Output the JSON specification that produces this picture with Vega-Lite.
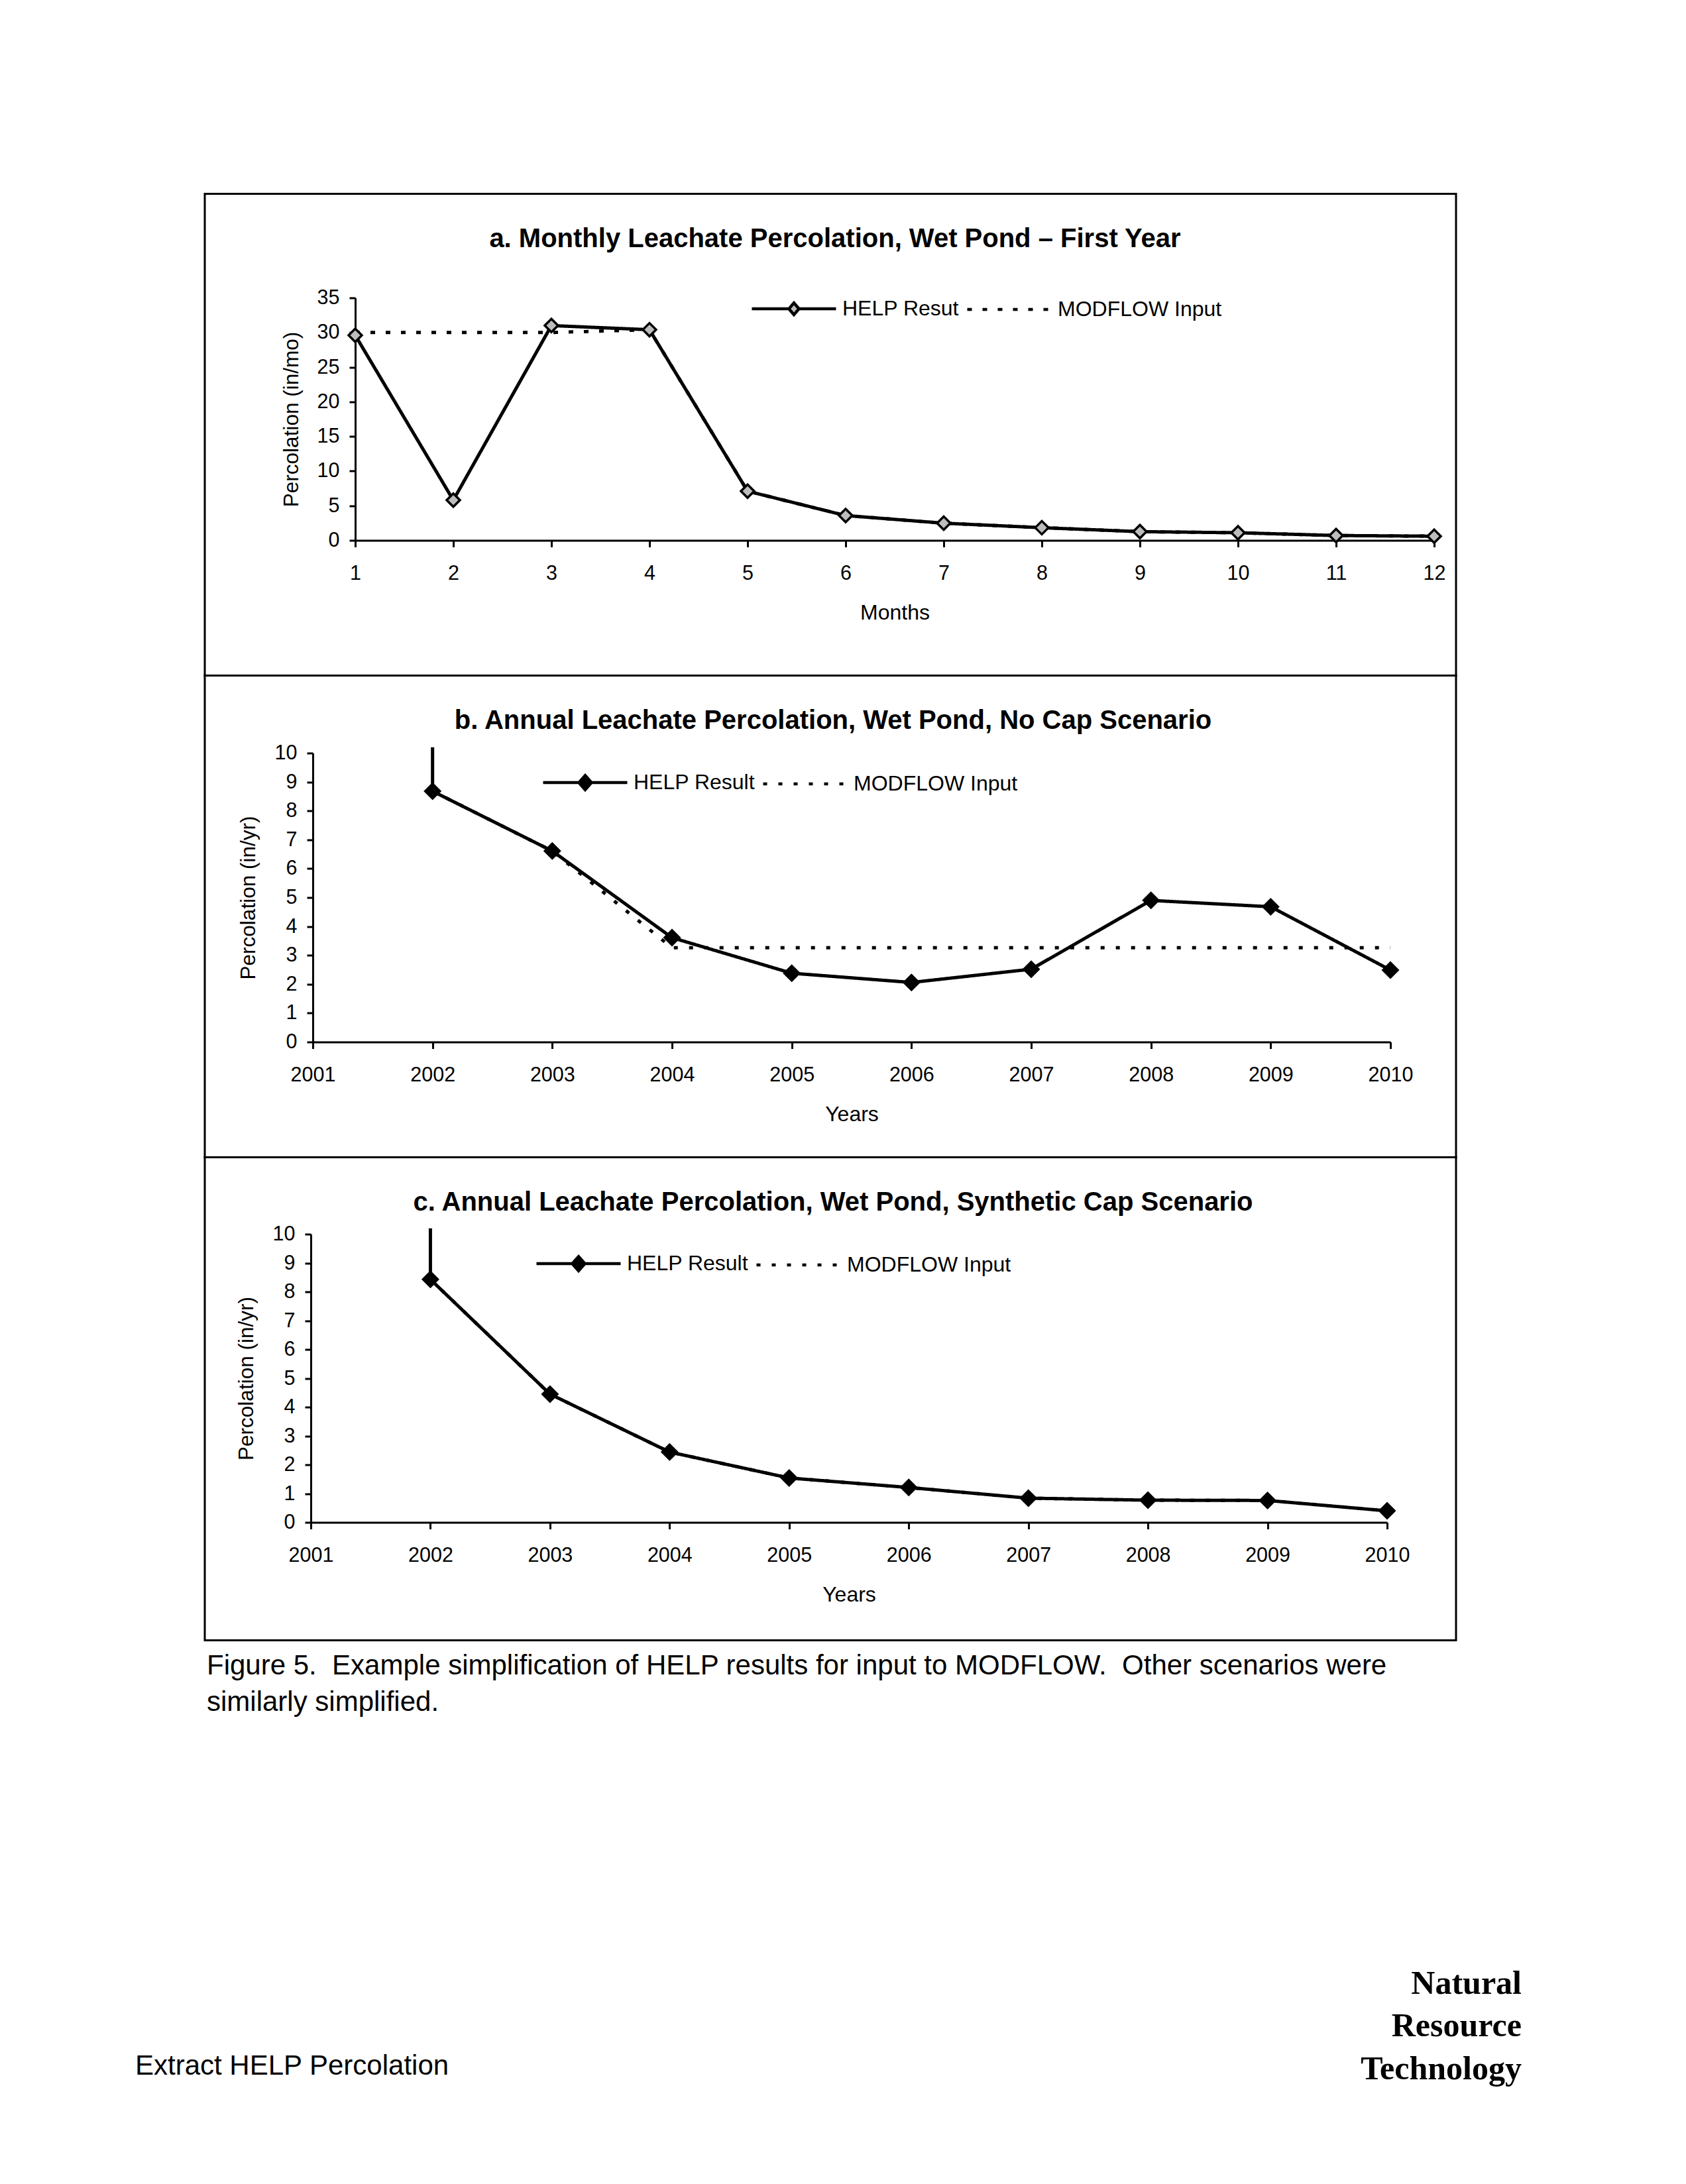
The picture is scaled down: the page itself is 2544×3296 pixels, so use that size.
{
  "$schema": "https://vega.github.io/schema/vega-lite/v6.json",
  "background": "white",
  "padding": {"left": 204, "top": 290.5, "right": 20, "bottom": 20},
  "spacing": 0,
  "bounds": "flush",
  "resolve": {"scale": {"strokeDash": "independent"}, "legend": {"strokeDash": "independent"}},
  "title": {"text": "Extract HELP Percolation", "orient": "bottom", "anchor": "start", "frame": "group", "dx": -105, "offset": -77.4, "fontSize": 42, "fontWeight": "normal", "font": "Liberation Sans", "color": "black"},
  "config": {
    "font": "Liberation Sans",
    "view": {"stroke": null},
    "axis": {"domainColor": "black", "domainWidth": 3, "tickColor": "black", "tickWidth": 3, "labelColor": "black", "labelFont": "Liberation Sans", "labelFontSize": 30.5, "titleFont": "Liberation Sans", "titleFontWeight": "normal", "titleColor": "black", "grid": false, "labelFlush": false, "labelOverlap": false},
    "axisX": {"tickSize": 10, "labelPadding": 25, "titlePadding": 28, "titleFontSize": 32},
    "axisY": {"tickSize": 9, "labelPadding": 15, "titlePadding": 22, "titleFontSize": 31.5},
    "title": {"font": "Liberation Sans", "fontSize": 40, "fontWeight": "bold", "color": "black", "anchor": "middle", "frame": "group", "offset": -88},
    "legend": {"symbolSize": 16129, "symbolStrokeWidth": 5, "symbolStrokeColor": "black", "labelFont": "Liberation Sans", "labelFontSize": 32, "labelColor": "black", "labelOffset": 7, "columnPadding": 2, "labelLimit": 1000, "padding": 0}
  },
  "vconcat": [
    {
      "width": 1888, "height": 727,
      "view": {"stroke": "black", "strokeWidth": 3},
      "title": {"text": "a. Monthly Leachate Percolation, Wet Pond – First Year", "dx": 7},
      "data": {"values": [
        {"month": 1, "value": 29.6, "series": "HELP Resut", "seq": 1},
        {"month": 2, "value": 5.8, "series": "HELP Resut", "seq": 2},
        {"month": 3, "value": 31.0, "series": "HELP Resut", "seq": 3},
        {"month": 4, "value": 30.4, "series": "HELP Resut", "seq": 4},
        {"month": 5, "value": 7.1, "series": "HELP Resut", "seq": 5},
        {"month": 6, "value": 3.58, "series": "HELP Resut", "seq": 6},
        {"month": 7, "value": 2.48, "series": "HELP Resut", "seq": 7},
        {"month": 8, "value": 1.83, "series": "HELP Resut", "seq": 8},
        {"month": 9, "value": 1.26, "series": "HELP Resut", "seq": 9},
        {"month": 10, "value": 1.1, "series": "HELP Resut", "seq": 10},
        {"month": 11, "value": 0.7, "series": "HELP Resut", "seq": 11},
        {"month": 12, "value": 0.6, "series": "HELP Resut", "seq": 12},
        {"month": 1, "value": 30, "series": "MODFLOW Input", "seq": 1},
        {"month": 2, "value": 30, "series": "MODFLOW Input", "seq": 2},
        {"month": 3, "value": 30, "series": "MODFLOW Input", "seq": 3},
        {"month": 4, "value": 30.4, "series": "MODFLOW Input", "seq": 4},
        {"month": 5, "value": 7.1, "series": "MODFLOW Input", "seq": 5},
        {"month": 6, "value": 3.58, "series": "MODFLOW Input", "seq": 6},
        {"month": 7, "value": 2.48, "series": "MODFLOW Input", "seq": 7},
        {"month": 8, "value": 1.83, "series": "MODFLOW Input", "seq": 8},
        {"month": 9, "value": 1.26, "series": "MODFLOW Input", "seq": 9},
        {"month": 10, "value": 1.1, "series": "MODFLOW Input", "seq": 10},
        {"month": 11, "value": 0.7, "series": "MODFLOW Input", "seq": 11},
        {"month": 12, "value": 0.6, "series": "MODFLOW Input", "seq": 12}
      ]},
      "encoding": {
        "x": {"field": "month", "type": "quantitative", "scale": {"domain": [1, 12], "range": [227, 1855], "nice": false, "zero": false}, "axis": {"title": "Months", "values": [1, 2, 3, 4, 5, 6, 7, 8, 9, 10, 11, 12], "format": "d", "offset": -204}},
        "y": {"field": "value", "type": "quantitative", "scale": {"domain": [0, 35], "range": [523, 157], "nice": false}, "axis": {"title": "Percolation (in/mo)", "values": [0, 5, 10, 15, 20, 25, 30, 35], "offset": -227}}
      },
      "layer": [
        {
          "mark": {"type": "line", "color": "black", "strokeWidth": 5},
          "encoding": {
            "order": {"field": "seq", "type": "quantitative"},
            "strokeDash": {"field": "series", "type": "nominal",
              "scale": {"domain": ["HELP Resut", "MODFLOW Input"], "range": [[1, 0], [7, 16]]},
              "legend": {"title": null, "orient": "none", "direction": "horizontal", "legendX": 823, "legendY": 107.5,
                "encode": {"symbols": {"update": {
                  "shape": {"signal": "indexof(datum.value, 'MODFLOW') === 0 ? 'M-1,0H1' : 'M-1,0H-0.12M0.12,0H1M0,-0.14L0.12,0L0,0.14L-0.12,0Z'"},
                  "fill": {"signal": "indexof(datum.value, 'MODFLOW') === 0 ? 'transparent' : '#bdbdbd'"},
                  "stroke": {"value": "black"},
                  "strokeWidth": {"value": 4.5}
                }}}
              }
            }
          }
        },
        {
          "transform": [{"filter": "datum.series === 'HELP Resut'"}],
          "mark": {"type": "point", "shape": "diamond", "filled": true, "fill": "#bdbdbd", "stroke": "black", "strokeWidth": 3.5, "size": 400, "opacity": 1}
        }
      ]
    },
    {
      "width": 1888, "height": 727,
      "view": {"stroke": "black", "strokeWidth": 3},
      "title": {"text": "b. Annual Leachate Percolation, Wet Pond, No Cap Scenario", "dx": 4},
      "data": {"values": [
        {"year": 2002, "value": 10.2, "series": "HELP Result", "seq": 0},
        {"year": 2002, "value": 8.68, "series": "HELP Result", "seq": 1},
        {"year": 2003, "value": 6.61, "series": "HELP Result", "seq": 2},
        {"year": 2004, "value": 3.61, "series": "HELP Result", "seq": 3},
        {"year": 2005, "value": 2.38, "series": "HELP Result", "seq": 4},
        {"year": 2006, "value": 2.06, "series": "HELP Result", "seq": 5},
        {"year": 2007, "value": 2.52, "series": "HELP Result", "seq": 6},
        {"year": 2008, "value": 4.9, "series": "HELP Result", "seq": 7},
        {"year": 2009, "value": 4.68, "series": "HELP Result", "seq": 8},
        {"year": 2010, "value": 2.49, "series": "HELP Result", "seq": 9},
        {"year": 2002, "value": 8.68, "series": "MODFLOW Input", "seq": 1},
        {"year": 2003, "value": 6.61, "series": "MODFLOW Input", "seq": 2},
        {"year": 2004, "value": 3.26, "series": "MODFLOW Input", "seq": 3},
        {"year": 2005, "value": 3.26, "series": "MODFLOW Input", "seq": 4},
        {"year": 2006, "value": 3.26, "series": "MODFLOW Input", "seq": 5},
        {"year": 2007, "value": 3.26, "series": "MODFLOW Input", "seq": 6},
        {"year": 2008, "value": 3.26, "series": "MODFLOW Input", "seq": 7},
        {"year": 2009, "value": 3.26, "series": "MODFLOW Input", "seq": 8},
        {"year": 2010, "value": 3.26, "series": "MODFLOW Input", "seq": 9}
      ]},
      "encoding": {
        "x": {"field": "year", "type": "quantitative", "scale": {"domain": [2001, 2010], "range": [163, 1789], "nice": false, "zero": false}, "axis": {"title": "Years", "values": [2001, 2002, 2003, 2004, 2005, 2006, 2007, 2008, 2009, 2010], "format": "d", "offset": -174}},
        "y": {"field": "value", "type": "quantitative", "scale": {"domain": [0, 10], "range": [553, 117], "nice": false}, "axis": {"title": "Percolation (in/yr)", "values": [0, 1, 2, 3, 4, 5, 6, 7, 8, 9, 10], "offset": -163, "titlePadding": 23}}
      },
      "layer": [
        {
          "mark": {"type": "line", "color": "black", "strokeWidth": 5},
          "encoding": {
            "order": {"field": "seq", "type": "quantitative"},
            "strokeDash": {"field": "series", "type": "nominal",
              "scale": {"domain": ["HELP Result", "MODFLOW Input"], "range": [[1, 0], [6, 17]]},
              "legend": {"title": null, "orient": "none", "direction": "horizontal", "legendX": 508, "legendY": 95.5,
                "encode": {"symbols": {"update": {
                  "shape": {"signal": "indexof(datum.value, 'MODFLOW') === 0 ? 'M-1,0H1' : 'M-1,0H1M0,-0.17L0.15,0L0,0.17L-0.15,0Z'"},
                  "fill": {"signal": "indexof(datum.value, 'MODFLOW') === 0 ? 'transparent' : 'black'"},
                  "stroke": {"value": "black"},
                  "strokeWidth": {"value": 4.5}
                }}}
              }
            }
          }
        },
        {
          "transform": [{"filter": "datum.series === 'HELP Result' && datum.seq > 0"}],
          "mark": {"type": "point", "shape": "diamond", "filled": true, "color": "black", "size": 729, "opacity": 1}
        }
      ]
    },
    {
      "width": 1888, "height": 729,
      "view": {"stroke": "black", "strokeWidth": 3},
      "title": {"text": "c. Annual Leachate Percolation, Wet Pond, Synthetic Cap Scenario", "dx": 4},
      "data": {"values": [
        {"year": 2002, "value": 10.2, "series": "HELP Result", "seq": 0},
        {"year": 2002, "value": 8.43, "series": "HELP Result", "seq": 1},
        {"year": 2003, "value": 4.45, "series": "HELP Result", "seq": 2},
        {"year": 2004, "value": 2.44, "series": "HELP Result", "seq": 3},
        {"year": 2005, "value": 1.54, "series": "HELP Result", "seq": 4},
        {"year": 2006, "value": 1.21, "series": "HELP Result", "seq": 5},
        {"year": 2007, "value": 0.84, "series": "HELP Result", "seq": 6},
        {"year": 2008, "value": 0.77, "series": "HELP Result", "seq": 7},
        {"year": 2009, "value": 0.76, "series": "HELP Result", "seq": 8},
        {"year": 2010, "value": 0.4, "series": "HELP Result", "seq": 9},
        {"year": 2002, "value": 8.43, "series": "MODFLOW Input", "seq": 1},
        {"year": 2003, "value": 4.45, "series": "MODFLOW Input", "seq": 2},
        {"year": 2004, "value": 2.44, "series": "MODFLOW Input", "seq": 3},
        {"year": 2005, "value": 1.54, "series": "MODFLOW Input", "seq": 4},
        {"year": 2006, "value": 1.21, "series": "MODFLOW Input", "seq": 5},
        {"year": 2007, "value": 0.84, "series": "MODFLOW Input", "seq": 6},
        {"year": 2008, "value": 0.77, "series": "MODFLOW Input", "seq": 7},
        {"year": 2009, "value": 0.76, "series": "MODFLOW Input", "seq": 8},
        {"year": 2010, "value": 0.4, "series": "MODFLOW Input", "seq": 9}
      ]},
      "encoding": {
        "x": {"field": "year", "type": "quantitative", "scale": {"domain": [2001, 2010], "range": [160, 1784], "nice": false, "zero": false}, "axis": {"title": "Years", "values": [2001, 2002, 2003, 2004, 2005, 2006, 2007, 2008, 2009, 2010], "format": "d", "offset": -178}},
        "y": {"field": "value", "type": "quantitative", "scale": {"domain": [0, 10], "range": [551, 116], "nice": false}, "axis": {"title": "Percolation (in/yr)", "values": [0, 1, 2, 3, 4, 5, 6, 7, 8, 9, 10], "offset": -160, "titlePadding": 23}}
      },
      "layer": [
        {
          "mark": {"type": "line", "color": "black", "strokeWidth": 5},
          "encoding": {
            "order": {"field": "seq", "type": "quantitative"},
            "strokeDash": {"field": "series", "type": "nominal",
              "scale": {"domain": ["HELP Result", "MODFLOW Input"], "range": [[1, 0], [6, 17]]},
              "legend": {"title": null, "orient": "none", "direction": "horizontal", "legendX": 498, "legendY": 94.5,
                "encode": {"symbols": {"update": {
                  "shape": {"signal": "indexof(datum.value, 'MODFLOW') === 0 ? 'M-1,0H1' : 'M-1,0H1M0,-0.17L0.15,0L0,0.17L-0.15,0Z'"},
                  "fill": {"signal": "indexof(datum.value, 'MODFLOW') === 0 ? 'transparent' : 'black'"},
                  "stroke": {"value": "black"},
                  "strokeWidth": {"value": 4.5}
                }}}
              }
            }
          }
        },
        {
          "transform": [{"filter": "datum.series === 'HELP Result' && datum.seq > 0"}],
          "mark": {"type": "point", "shape": "diamond", "filled": true, "color": "black", "size": 729, "opacity": 1}
        }
      ]
    },
    {
      "width": 1888, "height": 150,
      "view": {"stroke": null},
      "title": {"text": ["Figure 5.\u00a0 Example simplification of HELP results for input to MODFLOW.\u00a0 Other scenarios were", "similarly simplified."], "orient": "top", "anchor": "start", "frame": "group", "offset": -115.8, "dx": 3, "fontSize": 42, "fontWeight": "normal", "lineHeight": 55, "font": "Liberation Sans", "color": "black"},
      "data": {"values": []},
      "mark": "point"
    },
    {
      "width": 1888, "height": 550,
      "view": {"stroke": null, "fill": "white"},
      "title": {"text": ["Natural", "Resource", "Technology"], "orient": "top", "anchor": "end", "frame": "group", "offset": -522, "dx": 99, "fontSize": 50, "fontWeight": "bold", "lineHeight": 64.5, "font": "Liberation Serif", "color": "black"},
      "data": {"values": []},
      "mark": "point"
    }
  ]
}
